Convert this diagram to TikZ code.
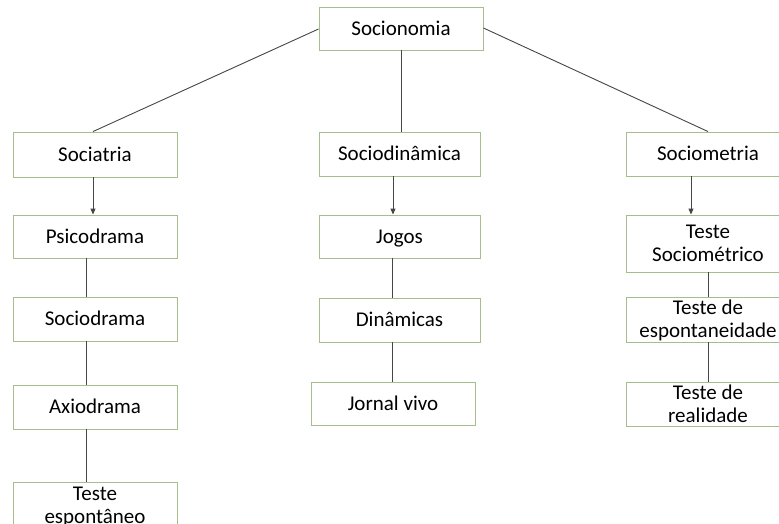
\documentclass[tikz,border=0pt]{standalone}
\usepackage{fontspec}
\setmainfont{Carlito}
\usetikzlibrary{arrows.meta}
\definecolor{boxgreen}{RGB}{165,190,140}
\definecolor{linegray}{RGB}{70,70,70}
\newcommand{\st}{\rule[-3.4pt]{0pt}{20.4pt}}
\tikzset{
  box/.style={draw=boxgreen, line width=0.9pt, fill=white, inner sep=0pt, align=center,
    font=\fontsize{21}{23}\selectfont, text=black},
  conn/.style={draw=linegray, line width=0.9pt},
  arr/.style={conn, -{Triangle[length=6pt,width=5pt]}}
}
\newcommand{\bx}[6]{% name, x1, y1, x2, y2, text
  \node[box, minimum width={(#4-#2)*1pt}, minimum height={(#5-#3)*1pt}] (#1) at ({(#2+#4)/2},{(#3+#5)/2}) {#6};}
\begin{document}
\begin{tikzpicture}[x=1pt,y=-1pt]
\useasboundingbox (0,0) rectangle (779,524);
\clip (0,0) rectangle (779,524);
\fill[white] (0,0) rectangle (779,524);
% top
\bx{top}{319}{7}{483}{50}{\st Socionomia}
% column 1
\bx{sa}{13}{132}{177}{177}{\st Sociatria}
\bx{psi}{13}{215}{177}{258}{\st Psicodrama}
\bx{soc}{13}{297}{177}{341}{\st Sociodrama}
\bx{axi}{13}{385}{177}{429}{\st Axiodrama}
\bx{tes}{13}{482}{177}{528}{\st Teste\\\st espontâneo}
% column 2
\bx{sd}{319}{132}{480}{176}{\st Sociodinâmica}
\bx{jog}{319}{215}{480}{258}{\st Jogos}
\bx{din}{319}{298}{480}{342}{\st Dinâmicas}
\bx{jor}{311}{382}{475}{425}{\st Jornal vivo}
% column 3
\bx{sm}{626}{132}{790}{176}{\st Sociometria}
\bx{tso}{626}{215}{790}{272}{\st Teste\\\st Sociométrico}
\bx{tde}{626}{297}{790}{342}{\st Teste de\\\st espontaneidade}
\bx{tdr}{626}{382}{790}{426}{\st Teste de\\\st realidade}
% hierarchy connectors
\draw[conn] (top.west |- 0,29) -- (sa.north -| 93,0);
\draw[conn] (top.east |- 0,28) -- (sm.north -| 708,0);
\draw[conn] (top.south -| 401,0) -- (sd.north -| 401,0);
% arrows
\draw[arr] (sa.south -| 93,0) -- (psi.north -| 93,0);
\draw[arr] (sd.south -| 393,0) -- (jog.north -| 393,0);
\draw[arr] (sm.south -| 691,0) -- (tso.north -| 691,0);
% plain lines
\draw[conn] (psi.south -| 86,0) -- (soc.north -| 86,0);
\draw[conn] (soc.south -| 86,0) -- (axi.north -| 86,0);
\draw[conn] (axi.south -| 86,0) -- (tes.north -| 86,0);
\draw[conn] (jog.south -| 392,0) -- (din.north -| 392,0);
\draw[conn] (din.south -| 392,0) -- (jor.north -| 392,0);
\draw[conn] (tso.south -| 708,0) -- (tde.north -| 708,0);
\draw[conn] (tde.south -| 708,0) -- (tdr.north -| 708,0);
\end{tikzpicture}
\end{document}
